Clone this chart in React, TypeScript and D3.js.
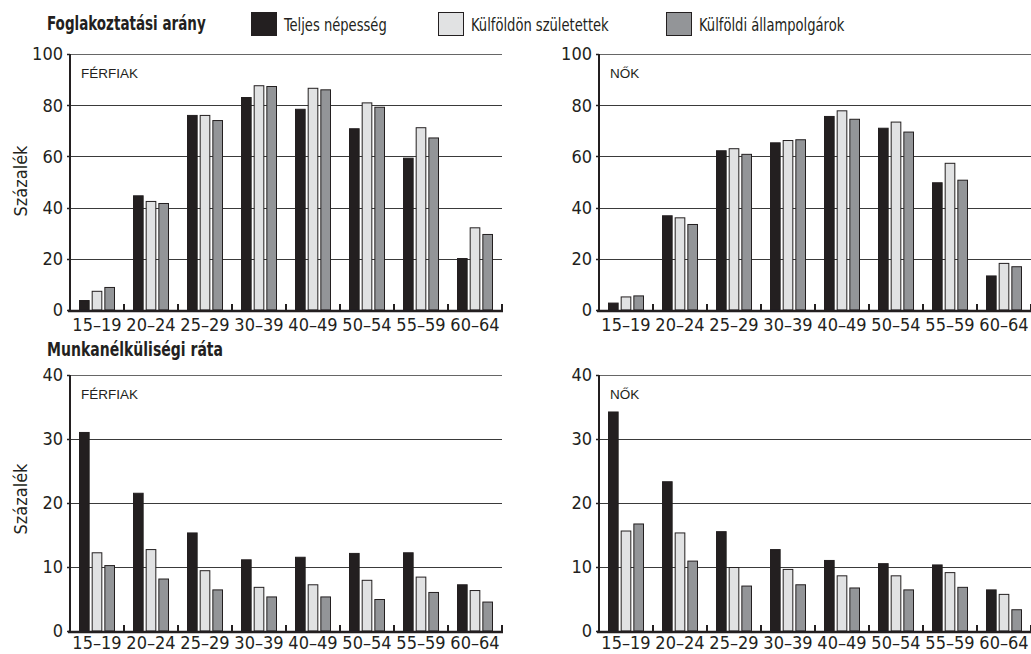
import React from "react";
import * as d3 from "d3";

const ageGroups = ["15–19", "20–24", "25–29", "30–39", "40–49", "50–54", "55–59", "60–64"];
const seriesNames = ["Teljes népesség", "Külföldön születettek", "Külföldi állampolgárok"];
const seriesColors = ["#231f20", "#e1e2e3", "#939598"];

// Foglakoztatási arány (employment rate)
const empMenTotal = [3.9, 44.8, 76.2, 83.2, 78.6, 71.0, 59.5, 20.3];
const empMenForeignBorn = [7.5, 42.6, 76.2, 87.8, 86.8, 81.1, 71.4, 32.3];
const empMenForeignCitizens = [9.0, 41.8, 74.2, 87.5, 86.2, 79.4, 67.4, 29.7];
const empWomenTotal = [2.9, 37.0, 62.4, 65.5, 75.8, 71.2, 49.9, 13.5];
const empWomenForeignBorn = [5.3, 36.2, 63.2, 66.4, 78.0, 73.6, 57.5, 18.4];
const empWomenForeignCitizens = [5.7, 33.6, 61.0, 66.7, 74.7, 69.7, 50.9, 17.1];

// Munkanélküliségi ráta (unemployment rate)
const unMenTotal = [31.1, 21.6, 15.4, 11.2, 11.6, 12.2, 12.3, 7.3];
const unMenForeignBorn = [12.3, 12.8, 9.5, 6.9, 7.3, 8.0, 8.5, 6.4];
const unMenForeignCitizens = [10.3, 8.2, 6.5, 5.4, 5.4, 5.0, 6.1, 4.6];
const unWomenTotal = [34.3, 23.4, 15.6, 12.8, 11.1, 10.6, 10.4, 6.5];
const unWomenForeignBorn = [15.7, 15.4, 10.0, 9.7, 8.7, 8.7, 9.2, 5.8];
const unWomenForeignCitizens = [16.8, 11.0, 7.1, 7.3, 6.8, 6.5, 6.9, 3.4];

const empTicks = [0, 20, 40, 60, 80, 100];
const unTicks = [0, 10, 20, 30, 40];

const NARROW = "'DejaVu Sans Condensed', 'DejaVu Sans', sans-serif";
const REG = "'Liberation Sans', Arial, sans-serif";
const INK = "#231f20";

type PanelProps = {
  x0: number; x1: number; yTop: number; yZero: number;
  max: number; ticks: number[]; label: string; labelGap: number;
  data: number[][];
};

function Panel({ x0, x1, yTop, yZero, max, ticks, label, labelGap, data }: PanelProps) {
  const x = d3.scaleBand<string>().domain(ageGroups).range([x0, x1]).padding(0);
  const y = d3.scaleLinear().domain([0, max]).range([yZero, yTop]);
  const inner = d3.scaleBand<string>().domain(seriesNames).range([-18, 18]).paddingInner(0.16);
  const bw = inner.bandwidth();
  const boundaries = ageGroups.map((g) => x(g) as number).slice(1).concat([x1]);
  return (
    <g>
      {ticks.filter((t) => t > 0).map((t) => (
        <line key={"g" + t} x1={x0} x2={x1} y1={Math.round(y(t)) + 0.5} y2={Math.round(y(t)) + 0.5}
          stroke={t === max ? "#666" : "#3a3a3a"} strokeWidth={1} />
      ))}
      {ticks.map((t) => (
        <text key={"t" + t} x={x0 - 7} y={y(t)} dy="0.36em" textAnchor="end"
          fontFamily={NARROW} fontSize={18} fill={INK}>{t}</text>
      ))}
      {ticks.map((t) => (
        <line key={"yt" + t} x1={x0 - 3} x2={x0} y1={Math.round(y(t)) + 0.5} y2={Math.round(y(t)) + 0.5}
          stroke={INK} strokeWidth={1.5} />
      ))}
      {ageGroups.map((g, i) => {
        const c = (x(g) as number) + x.bandwidth() / 2;
        return seriesNames.map((s, k) => {
          const v = data[k][i];
          const top = y(v);
          return (
            <rect key={g + s} x={c + (inner(s) as number) + 0.5} y={top + 0.5}
              width={bw - 1} height={yZero - top - 0.5}
              fill={seriesColors[k]} stroke={INK} strokeWidth={1} />
          );
        });
      })}
      <line x1={x0} x2={x0} y1={yTop} y2={yZero + 1} stroke={INK} strokeWidth={2} />
      <line x1={x0 - 2} x2={x1 + 1} y1={yZero + 1} y2={yZero + 1} stroke={INK} strokeWidth={2.5} />
      {boundaries.map((b, i) => (
        <line key={"xt" + i} x1={b} x2={b} y1={yZero + 1} y2={yZero - 6} stroke={INK} strokeWidth={2} />
      ))}
      {ageGroups.map((g) => (
        <text key={"xl" + g} x={(x(g) as number) + x.bandwidth() / 2} y={yZero + labelGap}
          textAnchor="middle" fontFamily={NARROW} fontSize={18} fill={INK}>{g}</text>
      ))}
      <text x={x0 + 11} y={yTop + 24} fontFamily={REG} fontSize={13.5} fill={INK}>{label}</text>
    </g>
  );
}

function NarrowText({ x, y, size, bold, sx, children }: { x: number; y: number; size: number; bold?: boolean; sx: number; children: React.ReactNode }) {
  return (
    <text transform={`translate(${x},${y}) scale(${sx},1)`} fontFamily={NARROW}
      fontWeight={bold ? "bold" : "normal"} fontSize={size} fill={INK}>{children}</text>
  );
}

export default function App() {
  const legendX = [251, 438, 666];
  return (
    <svg width={1031} height={654} style={{ position: "absolute", left: 0, top: 0, background: "#fff" }}>
      <NarrowText x={47} y={30} size={19} bold sx={0.79}>Foglakoztatási arány</NarrowText>
      {seriesNames.map((s, k) => (
        <g key={s}>
          <rect x={legendX[k] + 0.5} y={12.5} width={25} height={23} fill={seriesColors[k]} stroke={INK} strokeWidth={1} />
          <NarrowText x={legendX[k] + 33} y={31} size={18} sx={0.81}>{s}</NarrowText>
        </g>
      ))}
      <text transform="translate(27,181) rotate(-90)" textAnchor="middle" fontFamily={NARROW} fontSize={18} fill={INK}>Százalék</text>
      <text transform="translate(27,499) rotate(-90)" textAnchor="middle" fontFamily={NARROW} fontSize={18} fill={INK}>Százalék</text>
      <Panel x0={70} x1={502} yTop={54} yZero={310} max={100} ticks={empTicks} label="FÉRFIAK" labelGap={20.5}
        data={[empMenTotal, empMenForeignBorn, empMenForeignCitizens]} />
      <Panel x0={599} x1={1031} yTop={54} yZero={310} max={100} ticks={empTicks} label="NŐK" labelGap={20.5}
        data={[empWomenTotal, empWomenForeignBorn, empWomenForeignCitizens]} />
      <NarrowText x={47} y={356} size={19.5} bold sx={0.8}>Munkanélküliségi ráta</NarrowText>
      <Panel x0={70} x1={502} yTop={375} yZero={631} max={40} ticks={unTicks} label="FÉRFIAK" labelGap={18}
        data={[unMenTotal, unMenForeignBorn, unMenForeignCitizens]} />
      <Panel x0={599} x1={1031} yTop={375} yZero={631} max={40} ticks={unTicks} label="NŐK" labelGap={18}
        data={[unWomenTotal, unWomenForeignBorn, unWomenForeignCitizens]} />
    </svg>
  );
}
